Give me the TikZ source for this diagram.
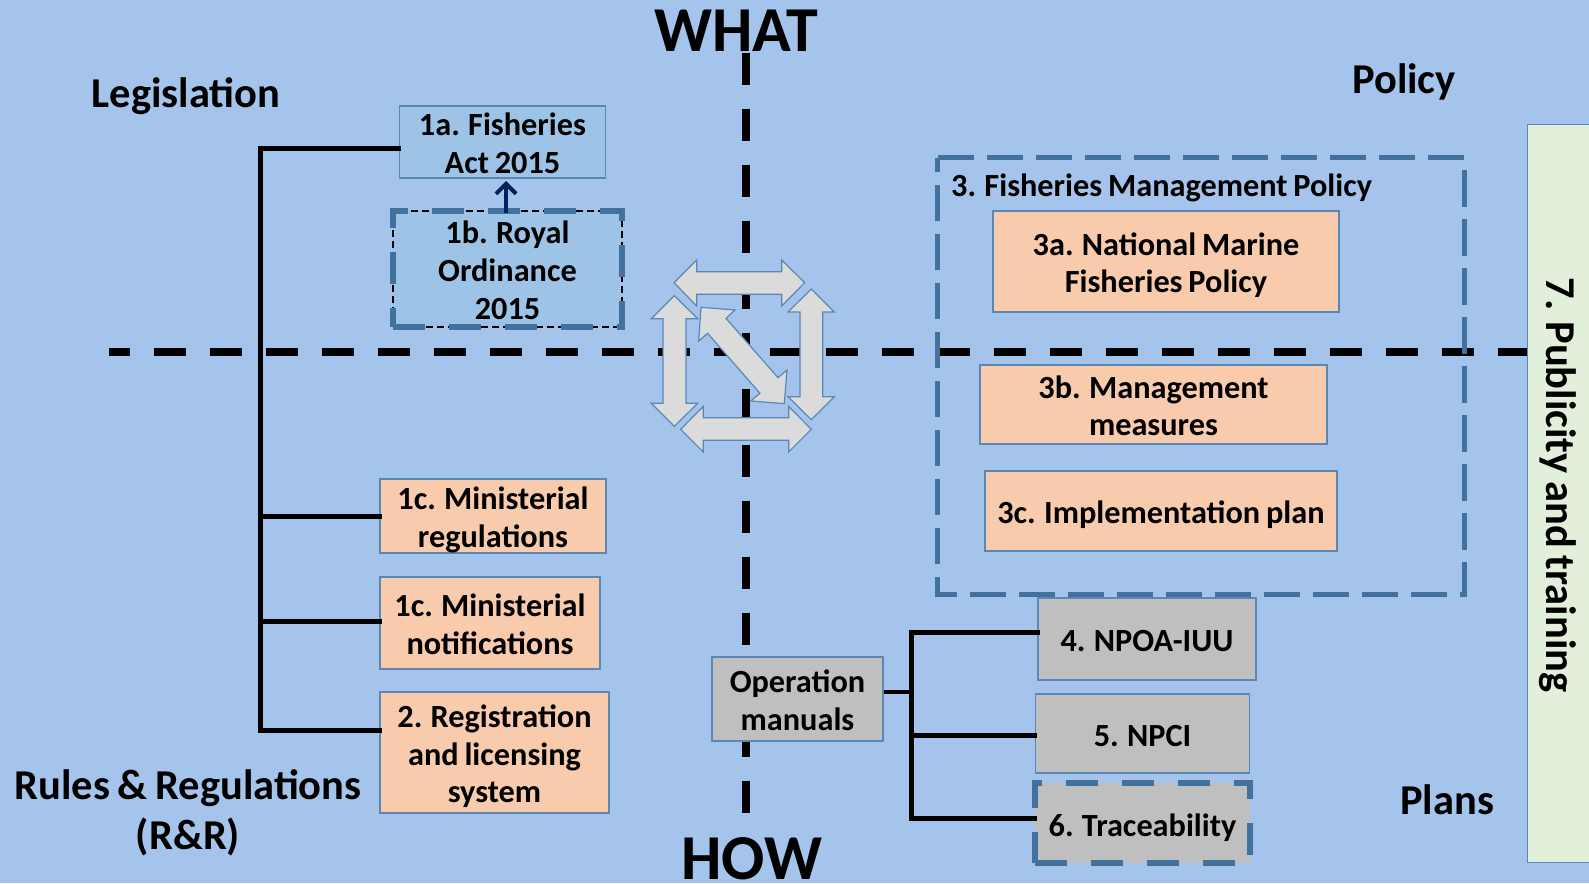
\documentclass[tikz,border=0pt]{standalone}
\usepackage{fontspec}
\usetikzlibrary{arrows.meta}
\setmainfont{Carlito}[WordSpace=0.8]
\definecolor{bgc}{HTML}{A4C4EC}
\definecolor{orangec}{HTML}{F8CBAD}
\definecolor{greyc}{HTML}{BFBFBF}
\definecolor{lblue}{HTML}{9DC3E6}
\definecolor{edgec}{HTML}{5B87B5}
\definecolor{dashc}{HTML}{41719C}
\definecolor{arrc}{HTML}{DBDBDB}
\definecolor{navyc}{HTML}{002060}
\definecolor{greenc}{HTML}{E2EFDA}
\newcommand{\topstrut}{\rule{0pt}{29pt}}
\newcommand{\botstrut}{\rule[-4pt]{0pt}{0pt}}
\tikzset{
  every node/.style={font=\fontsize{32.3}{37.8}\selectfont\bfseries, align=center, inner sep=0pt, text=black},
  box/.style={draw=edgec, line width=1.1pt, minimum width=#1},
  orangebox/.style={box=#1, fill=orangec},
  greybox/.style={box=#1, fill=greyc},
  bluebox/.style={box=#1, fill=lblue},
  title/.style={font=\fontsize{42.5}{50}\selectfont\bfseries},
  huge/.style={font=\fontsize{64}{64}\selectfont\bfseries},
  axish/.style={black, line width=8pt, dash pattern=on 32pt off 24pt, dash phase=11.4pt},
  axisv/.style={black, line width=8pt, dash pattern=on 32pt off 24pt},
  tree/.style={black, line width=5pt, line cap=rect},
  thintree/.style={black, line width=3.2pt},
  thickdash/.style={dashc, line width=6.5pt, dash pattern=on 32pt off 24pt},
  wideDash/.style={dashc, line width=5pt, dash pattern=on 36.4pt off 12.6pt},
  fourway/.style={draw=edgec, fill=arrc, line width=1.2pt, line join=miter},
}
\begin{document}
\begin{tikzpicture}[x=1pt,y=-1pt]
\useasboundingbox (0,0) rectangle (1589,883);
\fill[bgc] (0,0) rectangle (1589,883);

% axes
\coordinate (axisL) at (109,352);
\coordinate (axisR) at (1527,352);
\coordinate (axisT) at (746,52.7);
\coordinate (axisB) at (746,812.7);
\draw[axish] (axisL) -- (axisR);
\draw[axisv] (axisT) -- (axisB);

% headings
\node[huge] (what) at (736,31) {WHAT};
\node[huge] (how) at (752,859) {HOW};
\node[title] (legis) at (186,96) {Legislation};
\node[title] (policy) at (1404,82) {Policy};
\node[title] (plans) at (1447,800) {Plans};
\node[title] (rr) at (188,813) {Rules \& Regulations\\(R\&R)};

% left column
\node[bluebox=206pt, minimum height=72pt] (a1) at (502.5,142) {\topstrut 1a. Fisheries\\Act 2015\botstrut};
\node[fill=lblue, minimum width=229pt, minimum height=116pt] (b1) at (507.5,269) {\topstrut 1b. Royal\\Ordinance\\2015\botstrut};
\draw[black, line width=1.5pt, dash pattern=on 7pt off 4pt] (b1.south west) -- (b1.south east) -- (b1.north east) -- (b1.north west) -- cycle;
\draw[thickdash] (b1.south west) -- (b1.south east) -- (b1.north east) -- (b1.north west) -- cycle;
\coordinate (arrowfrom) at (506,213);
\coordinate (arrowto) at (506,181);
\draw[navyc, line width=4pt, -{Straight Barb[length=10pt,width=20pt]}] (arrowfrom) -- (arrowto);
\node[orangebox=226pt, minimum height=74pt] (c1) at (493,516) {\topstrut 1c. Ministerial\\\smash{regulations}\botstrut};
\node[orangebox=220pt, minimum height=92pt] (c2) at (490,623) {\topstrut 1c. Ministerial\\notifications\botstrut};
\node[orangebox=229pt, minimum height=121pt] (r2) at (494.5,752.5) {\topstrut 2. Registration\\and licensing\\\smash{system}\botstrut};

% left tree
\coordinate (lt) at (260,148);
\coordinate (lc1) at (260,516);
\coordinate (lc2) at (260,621);
\coordinate (lb) at (260,730);
\draw[tree] (lt) -- (lb);
\draw[tree] (lt) -- (a1.west |- lt);
\draw[tree] (lc1) -- (c1.west);
\draw[tree] (lc2) -- (c2.west |- lc2);
\draw[tree] (lb) -- (r2.west |- lb);

% right column
\node[minimum width=526pt, minimum height=436pt] (p3) at (1201,376) {};
\draw[wideDash] (p3.north west) -- (p3.north east) -- (p3.south east) -- (p3.south west) -- cycle;
\node[anchor=west] (p3t) at (951,188) {3. Fisheries Management Policy};
\node[orangebox=346pt, minimum height=101pt] (p3a) at (1166,261.5) {\topstrut 3a. National Marine\\\smash{Fisheries Policy}\botstrut};
\node[orangebox=347pt, minimum height=79pt] (p3b) at (1153.5,404.5) {\topstrut 3b. Management\\measures\botstrut};
\node[orangebox=352pt, minimum height=80pt] (p3c) at (1161,511) {\topstrut \smash{3c. Implementation plan}\botstrut};

% bottom right
\node[greybox=171pt, minimum height=84pt] (om) at (797.5,699) {\topstrut Operation\\manuals\botstrut};
\node[greybox=218pt, minimum height=82pt] (n4) at (1147,639) {\topstrut 4. NPOA-IUU\botstrut};
\node[greybox=214pt, minimum height=79pt] (n5) at (1142.5,733.5) {\topstrut 5. NPCI\botstrut};
\node[fill=greyc, minimum width=215pt, minimum height=80pt] (n6) at (1142.5,823) {\rule{0pt}{31pt}\smash{6. Traceability}\botstrut};
\draw[thickdash] (n6.south west) -- (n6.south east) -- (n6.north east) -- (n6.north west) -- cycle;
\coordinate (rt) at (911,632);
\coordinate (rm) at (911,692);
\coordinate (r5) at (911,735);
\coordinate (rb) at (911,818.5);
\draw[tree] (rt) -- (rb);
\draw[thintree] (om.east |- rm) -- (rm);
\draw[tree] (rt) -- (n4.west |- rt);
\draw[tree] (r5) -- (n5.west |- r5);
\draw[tree] (rb) -- (n6.west |- rb);

% side bar
\node[fill=greenc, draw=edgec, line width=1pt, minimum width=64pt, minimum height=738pt] (s7) at (1559,493) {};
\node[rotate=-90, font=\fontsize{42.5}{50}\selectfont\bfseries] (s7t) at (1558,485) {7. Publicity and training};

% four-way arrows
\begin{scope}[shift={(630,240)}, x=0.3333pt, y=-0.3333pt]
\draw[fourway] (132,128)--(200,60)--(200,95)--(455,95)--(455,60)--(524,128)--(455,198)--(455,163)--(200,163)--(200,198)--cycle;
\draw[fourway] (544,147)--(613,216)--(578,216)--(578,470)--(613,470)--(544,539)--(474,470)--(510,470)--(510,216)--(474,216)--cycle;
\draw[fourway] (133,167)--(203,236)--(168,236)--(168,490)--(203,490)--(133,559)--(64,490)--(99,490)--(99,236)--(64,236)--cycle;
\draw[fourway] (152,568)--(220,499)--(220,533)--(476,533)--(476,499)--(544,568)--(476,636)--(476,601)--(220,601)--(220,636)--cycle;
\draw[fourway] (213,202)--(315,210)--(288,235)--(444,413)--(471,390)--(463,491)--(362,483)--(390,460)--(233,280)--(206,303)--cycle;
\end{scope}
\end{tikzpicture}
\end{document}
